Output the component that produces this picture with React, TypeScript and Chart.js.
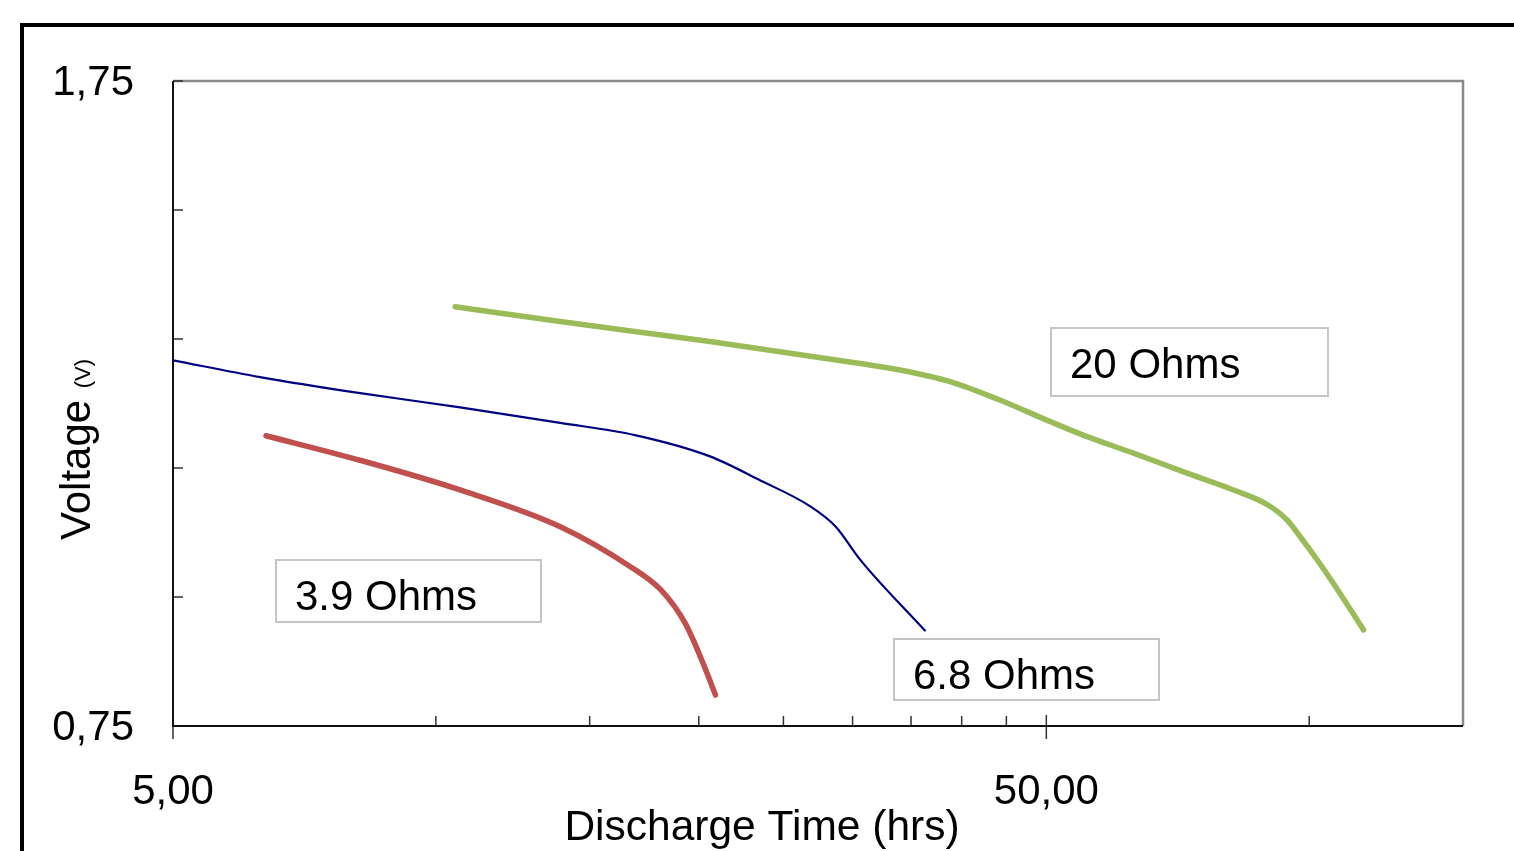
import React, { useEffect, useRef } from "react";
import { Chart, registerables } from "chart.js";

Chart.register(...registerables);

const FONT = '"Liberation Sans", Arial, Helvetica, sans-serif';

// ---- data ----
const ohm20Hours = [10.52, 13.88, 20.6, 30.6, 34.0, 38.8, 44.3, 50.5, 55.1, 62.9, 71.8, 81.9, 89.6, 94.4, 97.7, 102.2, 106.6, 115.4];
const ohm20Volts = [1.4, 1.377, 1.346, 1.312, 1.302, 1.284, 1.255, 1.222, 1.201, 1.173, 1.144, 1.116, 1.093, 1.069, 1.043, 1.007, 0.971, 0.899];

const ohm68Hours = [5.0, 6.29, 8.19, 10.66, 13.88, 16.9, 20.6, 23.5, 26.8, 28.7, 30.6, 36.3];
const ohm68Volts = [1.317, 1.291, 1.266, 1.244, 1.22, 1.201, 1.168, 1.131, 1.091, 1.059, 1.008, 0.898];

const ohm39Hours = [6.39, 8.19, 10.66, 13.88, 16.7, 18.1, 19.3, 20.3, 20.9];
const ohm39Volts = [1.2, 1.162, 1.116, 1.059, 0.997, 0.961, 0.909, 0.842, 0.798];

const xTickValues = [5, 10, 15, 20, 25, 30, 35, 40, 45, 50, 100, 150];
const xLabeledTicks = [5, 50];
const yTickValues = [0.75, 0.95, 1.15, 1.35, 1.55, 1.75];
const yLabeledTicks = [0.75, 1.75];

const seriesNames = ["20 Ohms", "6.8 Ohms", "3.9 Ohms"];
const labelAnchorHours = [50.66, 33.5, 6.56];
const labelAnchorVolts = [1.367, 0.885, 1.007];

const xTitle = "Discharge Time (hrs)";
const yTitleMain = "Voltage";
const yTitleUnit = "(V)";

// ---- styles ----
const seriesColors = ["#9BBB59", "#000080", "#C0504D"];
const seriesWidths = [5.5, 2.2, 5.5];
const labelBoxSizes = [
  [277, 68],
  [265, 61],
  [265, 62],
];

const fmt = (v: number) => v.toFixed(2).replace(".", ",");
const isIn = (arr: number[], v: number) => arr.some((a) => Math.abs(a - v) < 1e-6);
const toPoints = (xs: number[], ys: number[]) => xs.map((x, i) => ({ x, y: ys[i] }));

const framePlugin = {
  id: "framePlugin",
  beforeDraw(chart: any) {
    const { ctx, width, height } = chart;
    ctx.save();
    ctx.fillStyle = "#ffffff";
    ctx.fillRect(0, 0, width, height);
    ctx.fillStyle = "#000000";
    ctx.fillRect(20, 23, 4, height - 23);
    ctx.fillRect(20, 23, width - 20, 4);
    ctx.restore();
  },
  beforeDatasetsDraw(chart: any) {
    const { ctx, chartArea: a, scales } = chart;
    const xs = scales.x;
    const ys = scales.y;
    ctx.save();
    ctx.lineCap = "butt";
    ctx.strokeStyle = "#8a8a8a";
    ctx.lineWidth = 2.5;
    ctx.beginPath();
    ctx.moveTo(a.left, a.top);
    ctx.lineTo(a.right, a.top);
    ctx.lineTo(a.right, a.bottom);
    ctx.stroke();
    ctx.strokeStyle = "#333333";
    ctx.lineWidth = 1.5;
    ctx.beginPath();
    for (const v of yTickValues) {
      const py = ys.getPixelForValue(v);
      ctx.moveTo(a.left, py);
      ctx.lineTo(a.left + 10, py);
    }
    for (const v of xTickValues) {
      const px = xs.getPixelForValue(v);
      if (px >= a.right - 1) continue;
      if (isIn(xLabeledTicks, v)) {
        ctx.moveTo(px, a.bottom - 11);
        ctx.lineTo(px, a.bottom + 13);
      } else {
        ctx.moveTo(px, a.bottom - 10);
        ctx.lineTo(px, a.bottom);
      }
    }
    ctx.stroke();
    ctx.strokeStyle = "#111111";
    ctx.lineWidth = 2;
    ctx.beginPath();
    ctx.moveTo(a.left, a.top);
    ctx.lineTo(a.left, a.bottom);
    ctx.lineTo(a.right, a.bottom);
    ctx.stroke();
    ctx.restore();
  },
  afterDatasetsDraw(chart: any) {
    const { ctx, scales } = chart;
    const xs = scales.x;
    const ys = scales.y;
    ctx.save();
    seriesNames.forEach((name, i) => {
      const left = Math.round(xs.getPixelForValue(labelAnchorHours[i]));
      const top = Math.round(ys.getPixelForValue(labelAnchorVolts[i]));
      const [w, h] = labelBoxSizes[i];
      ctx.fillStyle = "#ffffff";
      ctx.fillRect(left, top, w, h);
      ctx.strokeStyle = "#c4c4c4";
      ctx.lineWidth = 2;
      ctx.strokeRect(left, top, w, h);
      ctx.fillStyle = "#000000";
      ctx.font = `42px ${FONT}`;
      ctx.textAlign = "left";
      ctx.textBaseline = "alphabetic";
      ctx.fillText(name, left + 19, top + 50);
    });
    ctx.restore();
  },
  afterDraw(chart: any) {
    const { ctx } = chart;
    ctx.save();
    ctx.fillStyle = "#000000";
    ctx.font = `42.5px ${FONT}`;
    ctx.textAlign = "center";
    ctx.textBaseline = "alphabetic";
    ctx.fillText(xTitle, 762, 840);
    ctx.translate(90, 540);
    ctx.rotate(-Math.PI / 2);
    ctx.textAlign = "left";
    ctx.font = `42px ${FONT}`;
    ctx.fillText(yTitleMain, 0, 0);
    const w = ctx.measureText(yTitleMain + " ").width;
    ctx.font = `22px ${FONT}`;
    ctx.fillText(yTitleUnit, w, 0);
    ctx.restore();
  },
};

export default function App() {
  const ref = useRef<HTMLCanvasElement>(null);

  useEffect(() => {
    if (!ref.current) return;
    const datasets = [
      toPoints(ohm20Hours, ohm20Volts),
      toPoints(ohm68Hours, ohm68Volts),
      toPoints(ohm39Hours, ohm39Volts),
    ].map((data, i) => ({
      label: seriesNames[i],
      data,
      borderColor: seriesColors[i],
      backgroundColor: seriesColors[i],
      borderWidth: seriesWidths[i],
      pointRadius: 0,
      pointHoverRadius: 0,
      cubicInterpolationMode: "monotone" as const,
      borderCapStyle: "round" as const,
      borderJoinStyle: "round" as const,
      fill: false,
    }));

    const chart = new Chart(ref.current, {
      type: "line",
      data: { datasets },
      plugins: [framePlugin],
      options: {
        animation: false,
        responsive: false,
        maintainAspectRatio: false,
        events: [],
        layout: { padding: { top: 81, right: 51, left: 0, bottom: 0 } },
        plugins: {
          legend: { display: false },
          tooltip: { enabled: false },
          title: { display: false },
        },
        scales: {
          x: {
            type: "logarithmic",
            min: 5,
            max: 150,
            grid: { display: false },
            border: { display: false },
            afterBuildTicks: (s: any) => {
              s.ticks = xTickValues.map((v) => ({ value: v }));
            },
            afterFit: (s: any) => {
              s.height = 125;
            },
            ticks: {
              autoSkip: false,
              maxRotation: 0,
              minRotation: 0,
              padding: 33,
              color: "#000000",
              font: { family: FONT, size: 42 },
              callback: (v: any) => (isIn(xLabeledTicks, Number(v)) ? fmt(Number(v)) : ""),
            },
          },
          y: {
            type: "linear",
            min: 0.75,
            max: 1.75,
            grid: { display: false },
            border: { display: false },
            afterBuildTicks: (s: any) => {
              s.ticks = yTickValues.map((v) => ({ value: v }));
            },
            afterFit: (s: any) => {
              s.width = 173;
            },
            ticks: {
              autoSkip: false,
              padding: 31,
              labelOffset: 2,
              color: "#000000",
              font: { family: FONT, size: 42 },
              callback: (v: any) => (isIn(yLabeledTicks, Number(v)) ? fmt(Number(v)) : ""),
            },
          },
        },
      },
    });
    return () => chart.destroy();
  }, []);

  return (
    <div style={{ position: "fixed", left: 0, top: 0, width: 1514, height: 851, background: "#ffffff" }}>
      <canvas ref={ref} width={1514} height={851} style={{ display: "block", width: 1514, height: 851 }} />
    </div>
  );
}
